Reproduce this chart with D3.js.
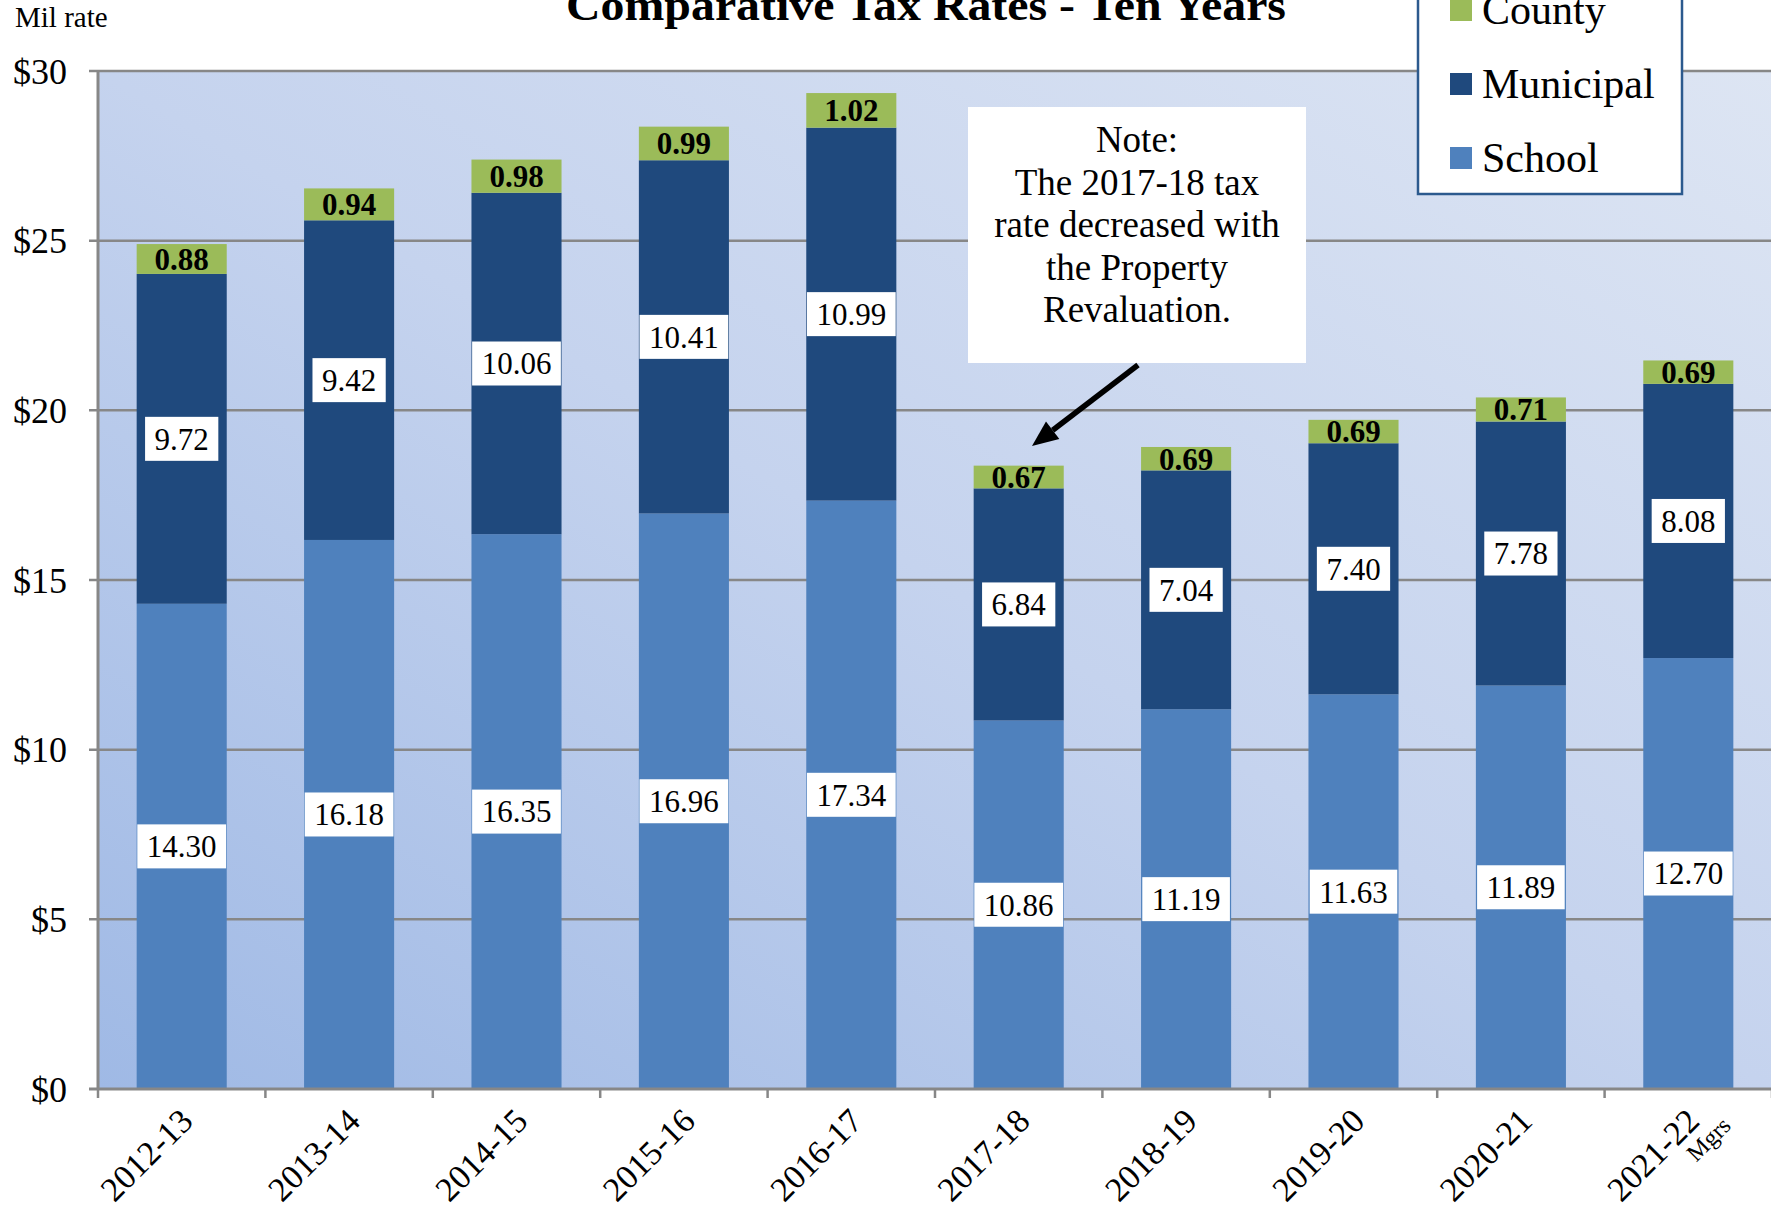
<!DOCTYPE html>
<html>
<head>
<meta charset="utf-8">
<script src="https://cdn.jsdelivr.net/npm/d3@7/dist/d3.min.js"></script>
<style>
  body { margin: 0; background: #ffffff; }
  svg { display: block; }
</style>
</head>
<body>
<div id="chart"></div>
<script>
// Données du graphique
const years = ["2012-13", "2013-14", "2014-15", "2015-16", "2016-17", "2017-18", "2018-19", "2019-20", "2020-21", "2021-22"];
const school = [14.30, 16.18, 16.35, 16.96, 17.34, 10.86, 11.19, 11.63, 11.89, 12.70];
const municipal = [9.72, 9.42, 10.06, 10.41, 10.99, 6.84, 7.04, 7.40, 7.78, 8.08];
const county = [0.88, 0.94, 0.98, 0.99, 1.02, 0.67, 0.69, 0.69, 0.71, 0.69];
const yTicks = [0, 5, 10, 15, 20, 25, 30];
const legendNames = ["County", "Municipal", "School"];
const noteLines = ["Note:", "The 2017-18 tax", "rate decreased with", "the Property", "Revaluation."];

const W = 1771, H = 1207;
const FONT = "'Liberation Serif', 'Times New Roman', serif";
const colors = { School: "#4f81bd", Municipal: "#1f497d", County: "#9bbb59" };

const rows = years.map((y, i) => ({ year: y, School: school[i], Municipal: municipal[i], County: county[i] }));
const stacked = d3.stack().keys(["School", "Municipal", "County"])(rows);

const plot = { left: 98, right: 1772, top: 71, bottom: 1089 };

const svg = d3.select("#chart")
    .append("svg")
    .attr("width", W)
    .attr("height", H)
    .style("font-family", FONT);

// Échelles
const x = d3.scaleBand()
    .domain(years)
    .range([plot.left, plot.right])
    .paddingInner(0.462)
    .paddingOuter(0.231);

const y = d3.scaleLinear()
    .domain([0, 30])
    .range([plot.bottom, plot.top]);

// Fond dégradé
const defs = svg.append("defs");
const grad = defs.append("linearGradient")
    .attr("id", "bg-grad")
    .attr("x1", 0).attr("y1", 1)
    .attr("x2", 1).attr("y2", 0);
grad.append("stop").attr("offset", "0%").attr("stop-color", "#9fb9e5");
grad.append("stop").attr("offset", "50%").attr("stop-color", "#c5d3ee");
grad.append("stop").attr("offset", "100%").attr("stop-color", "#dde5f3");

svg.append("rect")
    .attr("x", plot.left)
    .attr("y", plot.top)
    .attr("width", plot.right - plot.left)
    .attr("height", plot.bottom - plot.top)
    .attr("fill", "url(#bg-grad)");

// Grille horizontale
svg.selectAll(".grid")
    .data(yTicks.filter(d => d > 0))
    .enter()
    .append("line")
    .attr("class", "grid")
    .attr("x1", plot.left - 9)
    .attr("x2", plot.right)
    .attr("y1", d => y(d))
    .attr("y2", d => y(d))
    .attr("stroke", "#878787")
    .attr("stroke-width", 2.5);

// Barres empilées
svg.selectAll(".layer")
    .data(stacked)
    .enter()
    .append("g")
    .attr("class", "layer")
    .attr("fill", d => colors[d.key])
    .selectAll("rect")
    .data(d => d)
    .enter()
    .append("rect")
    .attr("x", d => x(d.data.year))
    .attr("y", d => y(d[1]))
    .attr("width", x.bandwidth())
    .attr("height", d => y(d[0]) - y(d[1]));

// Axes
const step = x.step();
const boundaries = d3.range(years.length + 1).map(i => plot.left + i * step);

svg.append("line")
    .attr("x1", plot.left).attr("x2", plot.left)
    .attr("y1", plot.top).attr("y2", plot.bottom)
    .attr("stroke", "#878787").attr("stroke-width", 3);

svg.append("line")
    .attr("x1", plot.left - 9).attr("x2", plot.right)
    .attr("y1", plot.bottom).attr("y2", plot.bottom)
    .attr("stroke", "#878787").attr("stroke-width", 3);

svg.selectAll(".xtick")
    .data(boundaries)
    .enter()
    .append("line")
    .attr("x1", d => d).attr("x2", d => d)
    .attr("y1", plot.bottom).attr("y2", plot.bottom + 9)
    .attr("stroke", "#878787").attr("stroke-width", 2.5);

svg.selectAll(".ylabel")
    .data(yTicks)
    .enter()
    .append("text")
    .attr("x", 67)
    .attr("y", d => y(d))
    .attr("dy", "0.35em")
    .attr("text-anchor", "end")
    .attr("font-size", 36)
    .attr("fill", "#000")
    .text(d => "$" + d);

svg.selectAll(".xlabel")
    .data(years)
    .enter()
    .append("text")
    .attr("transform", d => `translate(${x(d) + x.bandwidth() / 2 + 13},${plot.bottom + 34}) rotate(-45)`)
    .attr("text-anchor", "end")
    .attr("font-size", 34)
    .attr("fill", "#000")
    .text(d => d);

const last = years[years.length - 1];
svg.append("text")
    .attr("transform", `translate(${x(last) + x.bandwidth() / 2 + 20},${plot.bottom + 50}) rotate(-45)`)
    .attr("text-anchor", "middle")
    .attr("dy", "0.35em")
    .attr("font-size", 24)
    .text("Mgrs");

// Étiquettes avec boîte blanche
function boxLabel(cx, cy, value) {
    const g = svg.append("g");
    const t = g.append("text")
        .attr("x", cx)
        .attr("y", cy)
        .attr("dy", "0.35em")
        .attr("text-anchor", "middle")
        .attr("font-size", 31)
        .attr("fill", "#000")
        .text(value.toFixed(2));
    const w = t.node().getComputedTextLength() + 19;
    g.insert("rect", "text")
        .attr("x", cx - w / 2)
        .attr("y", cy - 22)
        .attr("width", w)
        .attr("height", 44)
        .attr("fill", "#ffffff");
}

stacked.forEach(layer => {
    layer.forEach(d => {
        const cx = x(d.data.year) + x.bandwidth() / 2;
        const cy = y((d[0] + d[1]) / 2);
        const v = d[1] - d[0];
        if (layer.key === "County") {
            svg.append("text")
                .attr("x", cx)
                .attr("y", cy)
                .attr("dy", "0.35em")
                .attr("text-anchor", "middle")
                .attr("font-size", 31)
                .attr("font-weight", "bold")
                .attr("fill", "#000")
                .text(v.toFixed(2));
        } else {
            boxLabel(cx, cy, v);
        }
    });
});

// Note et flèche
svg.append("rect")
    .attr("x", 968).attr("y", 107)
    .attr("width", 338).attr("height", 256)
    .attr("fill", "#ffffff");

svg.selectAll(".note")
    .data(noteLines)
    .enter()
    .append("text")
    .attr("x", 1137)
    .attr("y", (d, i) => 152 + i * 42.5)
    .attr("text-anchor", "middle")
    .attr("font-size", 37)
    .attr("fill", "#000")
    .text(d => d);

const tip = [1032, 446], tail = [1138, 365];
const ang = Math.atan2(tip[1] - tail[1], tip[0] - tail[0]);
const headLen = 26, headW = 11;
const base = [tip[0] - headLen * Math.cos(ang), tip[1] - headLen * Math.sin(ang)];
svg.append("line")
    .attr("x1", tail[0]).attr("y1", tail[1])
    .attr("x2", base[0]).attr("y2", base[1])
    .attr("stroke", "#000").attr("stroke-width", 5.5);
svg.append("path")
    .attr("d", d3.line()([
        tip,
        [base[0] + headW * Math.sin(ang), base[1] - headW * Math.cos(ang)],
        [base[0] - headW * Math.sin(ang), base[1] + headW * Math.cos(ang)]
    ]) + "Z")
    .attr("fill", "#000");

// Titre
svg.append("text")
    .attr("x", 926)
    .attr("y", 20)
    .attr("text-anchor", "middle")
    .attr("font-size", 44)
    .attr("font-weight", "bold")
    .attr("textLength", 720)
    .attr("lengthAdjust", "spacingAndGlyphs")
    .text("Comparative Tax Rates - Ten Years");

svg.append("text")
    .attr("x", 15)
    .attr("y", 27)
    .attr("font-size", 29)
    .text("Mil rate");

// Légende
const legend = svg.append("g");
legend.append("rect")
    .attr("x", 1418).attr("y", -30)
    .attr("width", 264).attr("height", 224)
    .attr("fill", "#ffffff")
    .attr("stroke", "#2c5a8e")
    .attr("stroke-width", 2.5);

legendNames.forEach((name, i) => {
    const cy = 10 + i * 74;
    legend.append("rect")
        .attr("x", 1450).attr("y", cy - 11)
        .attr("width", 22).attr("height", 22)
        .attr("fill", colors[name]);
    legend.append("text")
        .attr("x", 1482).attr("y", cy)
        .attr("dy", "0.33em")
        .attr("font-size", 42)
        .attr("fill", "#000")
        .text(name);
});
</script>
</body>
</html>
